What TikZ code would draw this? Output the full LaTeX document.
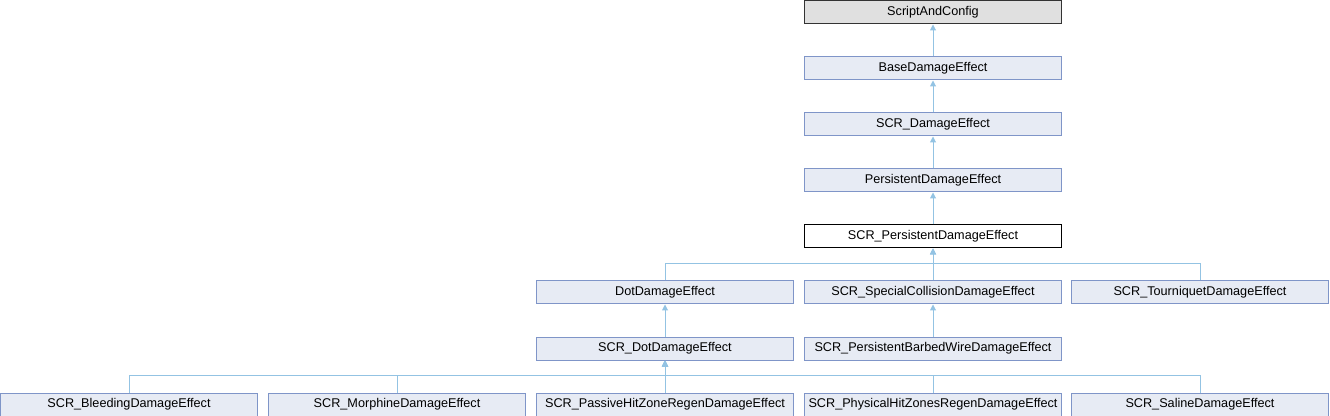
\documentclass[tikz,border=0pt]{standalone}
\usepackage{fontspec}
\setmainfont{Liberation Sans}
\usetikzlibrary{arrows.meta}
\definecolor{boxfill}{HTML}{E7EBF4}
\definecolor{boxline}{HTML}{7F95C8}
\definecolor{edgecol}{HTML}{93C3E3}
\definecolor{topfill}{HTML}{E0E0E0}
\definecolor{topline}{HTML}{333333}
\begin{document}
\begin{tikzpicture}[x=0.75pt,y=-0.75pt,
  cls/.style={draw=boxline,fill=boxfill,line width=0.75pt,minimum width=192.75pt,minimum height=17.25pt,inner sep=0pt,font=\fontsize{9.5pt}{11pt}\selectfont},
  topcls/.style={cls,draw=topline,fill=topfill},
  curcls/.style={cls,draw=black,fill=white},
  edge/.style={draw=edgecol,line width=0.75pt,-{Triangle[length=4.5pt,width=4.5pt]}}]
\useasboundingbox (0,0) rectangle (1330,416);
% rows
\node[topcls] (sac) at (933,12.5) {ScriptAndConfig};
\node[cls] (bde) at (933,68.5) {BaseDamageEffect};
\node[cls] (scrde) at (933,124.5) {SCR\_DamageEffect};
\node[cls] (pde) at (933,180.5) {PersistentDamageEffect};
\node[curcls] (spde) at (933,236.5) {SCR\_PersistentDamageEffect};
\node[cls] (dot) at (665,292.5) {DotDamageEffect};
\node[cls] (spc) at (933,292.5) {SCR\_SpecialCollisionDamageEffect};
\node[cls] (tq) at (1200,292.5) {SCR\_TourniquetDamageEffect};
\node[cls] (sdot) at (665,348.5) {SCR\_DotDamageEffect};
\node[cls] (barb) at (933,348.5) {SCR\_PersistentBarbedWireDamageEffect};
\node[cls] (bleed) at (129,404.5) {SCR\_BleedingDamageEffect};
\node[cls] (morph) at (397,404.5) {SCR\_MorphineDamageEffect};
\node[cls] (pass) at (665,404.5) {SCR\_PassiveHitZoneRegenDamageEffect};
\node[cls] (phys) at (933,404.5) {SCR\_PhysicalHitZonesRegenDamageEffect};
\node[cls] (sal) at (1200,404.5) {SCR\_SalineDamageEffect};
% edges
\draw[edge] (bde.north) -- (sac.south);
\draw[edge] (scrde.north) -- (bde.south);
\draw[edge] (pde.north) -- (scrde.south);
\draw[edge] (spde.north) -- (pde.south);
\draw[edge] (dot.north) -- ++(0,-17) -| (spde.south);
\draw[edge] (spc.north) -- (spde.south);
\draw[edge] (tq.north) -- ++(0,-17) -| (spde.south);
\draw[edge] (sdot.north) -- (dot.south);
\draw[edge] (barb.north) -- (spc.south);
\draw[edge] (bleed.north) -- ++(0,-17) -| (sdot.south);
\draw[edge] (morph.north) -- ++(0,-17) -| (sdot.south);
\draw[edge] (pass.north) -- (sdot.south);
\draw[edge] (phys.north) -- ++(0,-17) -| (sdot.south);
\draw[edge] (sal.north) -- ++(0,-17) -| (sdot.south);
\end{tikzpicture}
\end{document}
